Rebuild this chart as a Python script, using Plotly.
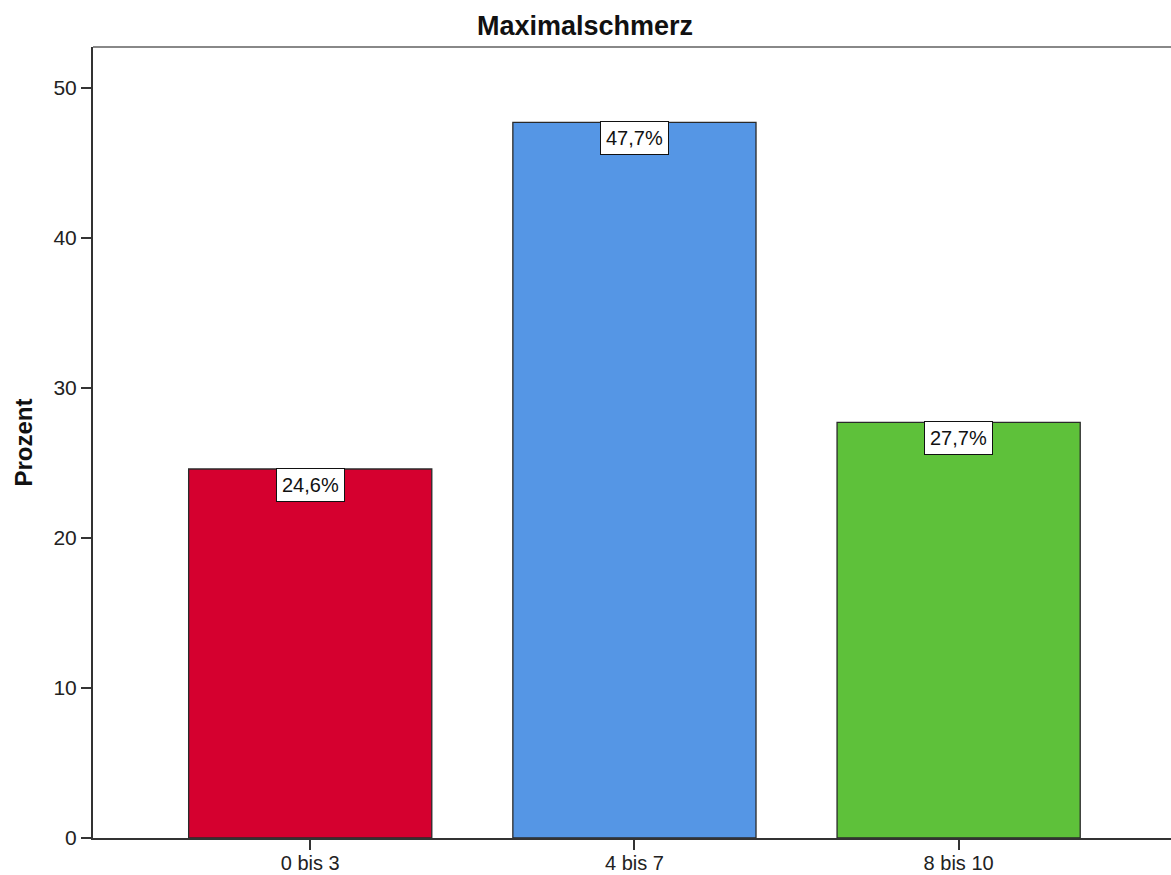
import plotly.graph_objects as go

categories = ["0 bis 3", "4 bis 7", "8 bis 10"]
values = [24.6, 47.7, 27.7]
labels = ["24,6%", "47,7%", "27,7%"]
colors = ["#D5002F", "#5596E5", "#5EC13A"]
y_ticks = [0, 10, 20, 30, 40, 50]

FONT = "Liberation Sans, Arial"

fig = go.Figure()
fig.add_trace(go.Bar(
    x=categories, y=values, width=0.75,
    marker=dict(color=colors, line=dict(color="#2a2a2a", width=1.3)),
    hoverinfo="skip",
))

for c, v, t in zip(categories, values, labels):
    fig.add_annotation(
        x=c, y=v, text=t, showarrow=False, yanchor="top", yshift=1,
        font=dict(family=FONT, size=20, color="#111"),
        bgcolor="white", bordercolor="#111", borderwidth=1, borderpad=5,
    )

fig.add_shape(type="line", xref="paper", yref="paper", x0=0, x1=1, y0=1, y1=1,
              line=dict(color="#888888", width=2))

fig.update_layout(
    width=1171, height=875,
    margin=dict(l=93, r=0, t=47, b=37),
    paper_bgcolor="white", plot_bgcolor="white",
    showlegend=False,
    font=dict(family=FONT, size=21, color="#222"),
    title=dict(text="<b>Maximalschmerz</b>", x=585 / 1171, xanchor="center", xref="container",
               y=1 - 26 / 875, yanchor="middle",
               font=dict(family=FONT, size=27, color="#111")),
    xaxis=dict(range=[-0.67, 2.655], showline=True, linecolor="#333", linewidth=2,
               ticks="outside", ticklen=10, tickcolor="#333", tickwidth=2,
               showgrid=False, zeroline=False, automargin=False,
               ticklabelstandoff=-4,
               tickfont=dict(size=20, color="#222")),
    yaxis=dict(range=[0, 52.73], tickvals=y_ticks, showline=True, linecolor="#333",
               linewidth=2, ticks="outside", ticklen=10, tickcolor="#333", tickwidth=2,
               showgrid=False, zeroline=False, automargin=False,
               title=dict(text="<b>Prozent</b>", standoff=14,
                          font=dict(size=24, color="#111")),
               tickfont=dict(size=21, color="#222")),
)

fig.write_html("out.html")
